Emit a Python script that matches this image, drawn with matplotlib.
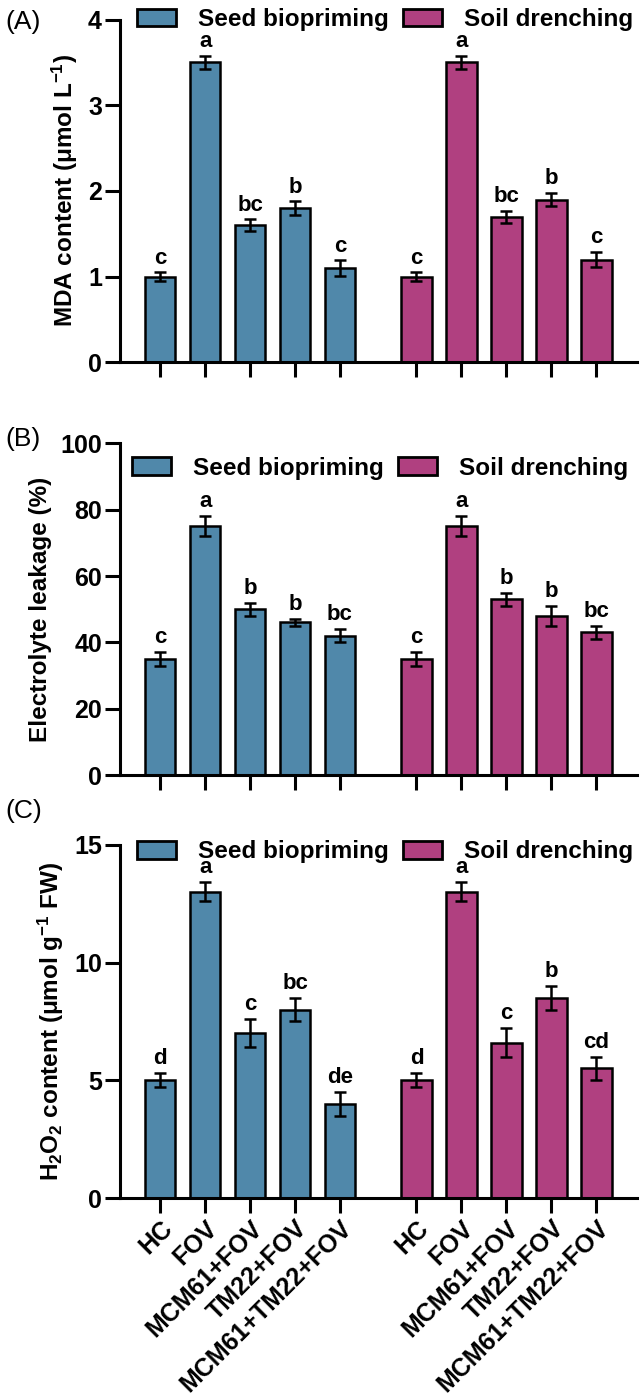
import numpy as np
import matplotlib
matplotlib.use("Agg")
import matplotlib.pyplot as plt
from matplotlib.patches import Patch

plt.rcParams['font.family'] = ['Liberation Sans', 'DejaVu Sans']
plt.rcParams['mathtext.default'] = 'regular'

# treatments and groups
treatments = ["HC", "FOV", "MCM61+FOV", "TM22+FOV", "MCM61+TM22+FOV"]
groups = ["Seed biopriming", "Soil drenching"]

# (A) MDA content
mda_seed = [1.0, 3.5, 1.6, 1.8, 1.1]
mda_seed_err = [0.05, 0.08, 0.07, 0.08, 0.09]
mda_soil = [1.0, 3.5, 1.7, 1.9, 1.2]
mda_soil_err = [0.05, 0.08, 0.07, 0.08, 0.09]
mda_seed_let = ["c", "a", "bc", "b", "c"]
mda_soil_let = ["c", "a", "bc", "b", "c"]

# (B) electrolyte leakage
el_seed = [35, 75, 50, 46, 42]
el_seed_err = [2, 3, 2, 1, 2]
el_soil = [35, 75, 53, 48, 43]
el_soil_err = [2, 3, 2, 3, 2]
el_seed_let = ["c", "a", "b", "b", "bc"]
el_soil_let = ["c", "a", "b", "b", "bc"]

# (C) H2O2 content
h2o2_seed = [5.0, 13.0, 7.0, 8.0, 4.0]
h2o2_seed_err = [0.3, 0.4, 0.6, 0.5, 0.5]
h2o2_soil = [5.0, 13.0, 6.6, 8.5, 5.5]
h2o2_soil_err = [0.3, 0.4, 0.6, 0.5, 0.5]
h2o2_seed_let = ["d", "a", "c", "bc", "de"]
h2o2_soil_let = ["d", "a", "c", "b", "cd"]

blue = "#5088AA"
pink = "#B04080"

x_seed = np.arange(5)
x_soil = np.arange(5) + 5.7
xticks = np.concatenate([x_seed, x_soil])

fig = plt.figure(figsize=(6.42, 13.94), dpi=100)

panels = [
    dict(rect=[0.187, 0.740, 0.805, 0.246], seed=mda_seed, se=mda_seed_err, soil=mda_soil, so=mda_soil_err,
         ls=mda_seed_let, lo=mda_soil_let, ylim=4, step=1, ylabel="MDA content (μmol L$^{-1}$)",
         tag="(A)", tag_y=0.984, leg=(0.0, 1.0), off=0.04),
    dict(rect=[0.187, 0.444, 0.805, 0.238], seed=el_seed, se=el_seed_err, soil=el_soil, so=el_soil_err,
         ls=el_seed_let, lo=el_soil_let, ylim=100, step=20, ylabel="Electrolyte leakage (%)",
         tag="(B)", tag_y=0.685, leg=(-0.01, 0.925), off=1.2),
    dict(rect=[0.187, 0.1406, 0.805, 0.2534], seed=h2o2_seed, se=h2o2_seed_err, soil=h2o2_soil, so=h2o2_soil_err,
         ls=h2o2_seed_let, lo=h2o2_soil_let, ylim=15, step=5, ylabel="H$_2$O$_2$ content (μmol g$^{-1}$ FW)",
         tag="(C)", tag_y=0.418, leg=(0.0, 0.98), off=0.17),
]

for i, p in enumerate(panels):
    ax = fig.add_axes(p["rect"])
    for xs, vals, errs, col, lets in [(x_seed, p["seed"], p["se"], blue, p["ls"]),
                                      (x_soil, p["soil"], p["so"], pink, p["lo"])]:
        ax.bar(xs, vals, width=0.68, color=col, edgecolor="black", linewidth=1.8, zorder=2)
        ax.errorbar(xs, vals, yerr=errs, fmt="none", ecolor="black", elinewidth=1.8,
                    capsize=4, capthick=1.8, zorder=3)
        for xx, v, e, t in zip(xs, vals, errs, lets):
            ax.text(xx, v + e + p["off"], t, ha="center", va="bottom", fontsize=16, fontweight="bold")
    ax.set_xlim(-0.89, 10.6)
    ax.set_ylim(0, p["ylim"])
    ax.set_yticks(np.arange(0, p["ylim"] + p["step"] / 2, p["step"]))
    ax.set_xticks(xticks)
    if i == 2:
        ax.set_xticklabels(treatments * 2, rotation=45, ha="right", rotation_mode="anchor",
                           fontsize=18, fontweight="bold")
    else:
        ax.set_xticklabels([])
    for lab in ax.get_yticklabels():
        lab.set_fontsize(18)
        lab.set_fontweight("bold")
    ax.spines["top"].set_visible(False)
    ax.spines["right"].set_visible(False)
    ax.spines["left"].set_linewidth(2.2)
    ax.spines["bottom"].set_linewidth(2.2)
    ax.tick_params(axis="both", width=2.2, length=11, direction="out", pad=2)
    ax.set_ylabel(p["ylabel"], fontsize=17.5, fontweight="bold", labelpad=6)
    handles = [Patch(facecolor=blue, edgecolor="black", linewidth=2, label=groups[0]),
               Patch(facecolor=pink, edgecolor="black", linewidth=2, label=groups[1])]
    leg = ax.legend(handles=handles, loc="center left", bbox_to_anchor=p["leg"], ncol=2, frameon=False,
                    prop={"size": 17.5, "weight": "bold"}, handlelength=1.6, handleheight=0.75,
                    handletextpad=0.9, columnspacing=0.6, borderaxespad=0.3)
    leg.set_zorder(5)
    fig.text(0.008, p["tag_y"], p["tag"], fontsize=19, ha="left", va="center")

fig.savefig("out.png", dpi=100)
